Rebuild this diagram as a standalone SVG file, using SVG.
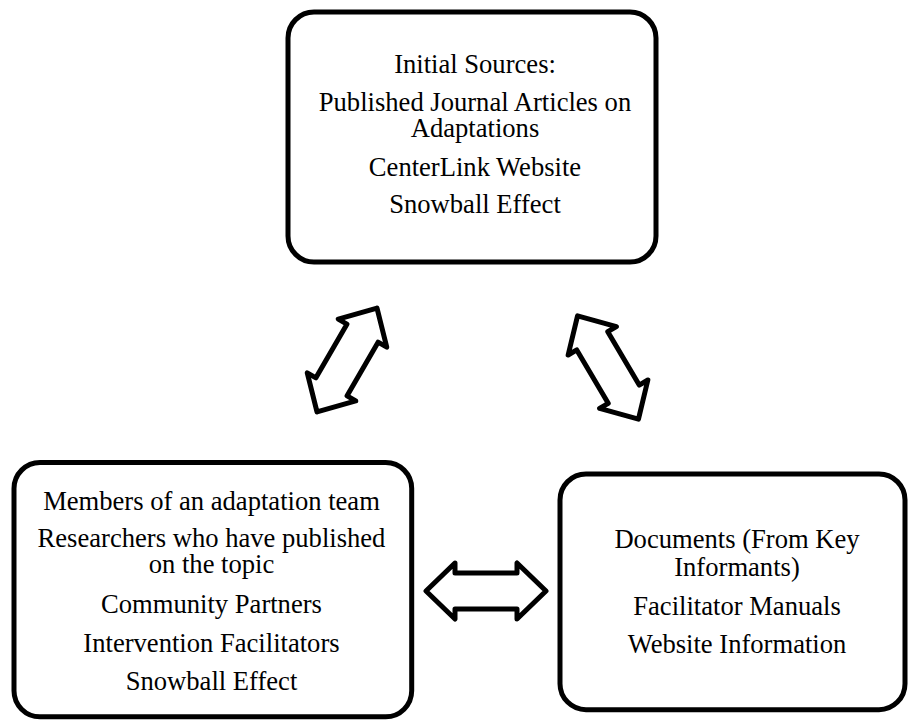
<svg xmlns="http://www.w3.org/2000/svg" width="909" height="721" viewBox="0 0 909 721">
  <style>
    .box { fill: #ffffff; stroke: #000000; stroke-width: 5; }
    .label { font-family: "Liberation Serif", "Times New Roman", serif; font-size: 26.6px; fill: #000000; text-anchor: middle; }
    .dbl { fill: #ffffff; stroke: #000000; stroke-width: 5; stroke-linejoin: round; }
  </style>
  <defs>
    <!-- double-headed block arrow, centred on the origin, pointing along x -->
    <path id="double-arrow" d="M 60 0 L 31 -28 L 31 -18 L -31 -18 L -31 -28 L -60 0 L -31 28 L -31 18 L 31 18 L 31 28 Z"/>
  </defs>
  <rect width="909" height="721" fill="#ffffff"/>

  <g id="connectors">
    <use href="#double-arrow" class="dbl" transform="translate(347,360) rotate(-60)"/>
    <use href="#double-arrow" class="dbl" transform="translate(608,367.5) rotate(59.5)"/>
    <use href="#double-arrow" class="dbl" transform="translate(486,591)"/>
  </g>

  <g id="initial-sources">
    <rect class="box" x="288" y="12" width="368" height="250" rx="26"/>
    <text class="label" x="475" y="72.7">Initial Sources:</text>
    <text class="label" x="475" y="110.7">Published Journal Articles on</text>
    <text class="label" x="475" y="137.3">Adaptations</text>
    <text class="label" x="475" y="175.7">CenterLink Website</text>
    <text class="label" x="475" y="213.3">Snowball Effect</text>
  </g>

  <g id="key-informants">
    <rect class="box" x="14" y="462.5" width="397.7" height="254.3" rx="26"/>
    <text class="label" x="211.5" y="510">Members of an adaptation team</text>
    <text class="label" x="211.5" y="546.7">Researchers who have published</text>
    <text class="label" x="211.5" y="573.3">on the topic</text>
    <text class="label" x="211.5" y="613.3">Community Partners</text>
    <text class="label" x="211.5" y="651.7">Intervention Facilitators</text>
    <text class="label" x="211.5" y="690">Snowball Effect</text>
  </g>

  <g id="documents">
    <rect class="box" x="560" y="474" width="345" height="235.7" rx="26"/>
    <text class="label" x="737" y="548.3">Documents (From Key</text>
    <text class="label" x="737" y="576">Informants)</text>
    <text class="label" x="737" y="615">Facilitator Manuals</text>
    <text class="label" x="737" y="653.3">Website Information</text>
  </g>
</svg>
